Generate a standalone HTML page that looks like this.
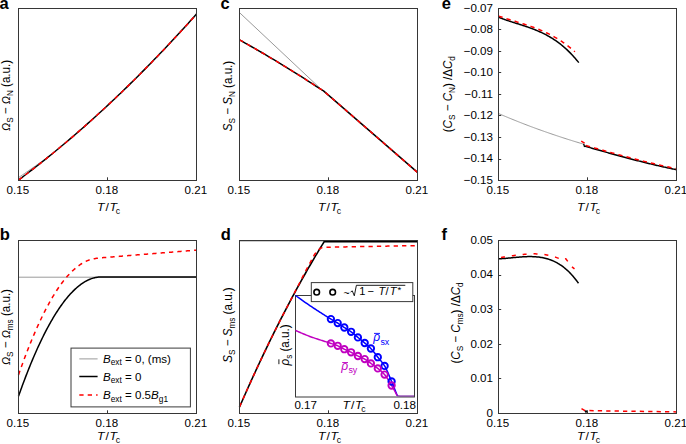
<!DOCTYPE html>
<html><head><meta charset="utf-8"><style>
html,body{margin:0;padding:0;background:#fff;}
svg{display:block;font-family:"Liberation Sans",sans-serif;}
</style></head><body>
<svg width="686" height="444" viewBox="0 0 686 444">
<rect width="686" height="444" fill="#fff"/>
<text x="-0.6" y="8.8" font-size="16.5" font-weight="bold">a</text>
<text x="220.6" y="8.8" font-size="16.5" font-weight="bold">c</text>
<text x="441.8" y="8.8" font-size="16.5" font-weight="bold">e</text>
<text x="-0.3" y="239.8" font-size="16.5" font-weight="bold">b</text>
<text x="220.8" y="239.8" font-size="16.5" font-weight="bold">d</text>
<text x="441.6" y="239.8" font-size="16.5" font-weight="bold">f</text>
<path d="M18.50,177.63 L20.60,176.20 L22.70,174.77 L24.80,173.33 L26.90,171.88 L29.00,170.42 L31.10,168.96 L33.20,167.49 L35.30,166.02 L37.40,164.54 L39.50,163.06 L41.60,161.58 L43.70,160.10 L45.80,158.63 L47.90,157.19 L50.00,155.60" fill="none" stroke="#9a9a9a" stroke-width="1" stroke-linejoin="round" />
<path d="M18.50,180.03 L21.52,177.78 L24.53,175.52 L27.55,173.23 L30.57,170.92 L33.58,168.60 L36.60,166.25 L39.62,163.88 L42.64,161.50 L45.65,159.10 L48.67,156.67 L51.69,154.23 L54.70,151.77 L57.72,149.29 L60.74,146.78 L63.75,144.26 L66.77,141.72 L69.79,139.16 L72.81,136.58 L75.82,133.99 L78.84,131.37 L81.86,128.73 L84.87,126.07 L87.89,123.40 L90.91,120.70 L93.92,117.99 L96.94,115.25 L99.96,112.50 L102.97,109.72 L105.99,106.93 L109.01,104.12 L112.03,101.29 L115.04,98.44 L118.06,95.57 L121.08,92.68 L124.09,89.77 L127.11,86.84 L130.13,83.89 L133.14,80.92 L136.16,77.93 L139.18,74.93 L142.19,71.90 L145.21,68.85 L148.23,65.79 L151.25,62.70 L154.26,59.60 L157.28,56.48 L160.30,53.33 L163.31,50.17 L166.33,46.99 L169.35,43.79 L172.36,40.57 L175.38,37.33 L178.40,34.07 L181.42,30.79 L184.43,27.49 L187.45,24.17 L190.47,20.83 L193.48,17.48 L196.50,14.10" fill="none" stroke="#000" stroke-width="1.5" stroke-linejoin="round" />
<path d="M18.50,180.03 L21.52,177.78 L24.53,175.52 L27.55,173.23 L30.57,170.92 L33.58,168.60 L36.60,166.25 L39.62,163.88 L42.64,161.50 L45.65,159.10 L48.67,156.67 L51.69,154.23 L54.70,151.77 L57.72,149.29 L60.74,146.78 L63.75,144.26 L66.77,141.72 L69.79,139.16 L72.81,136.58 L75.82,133.99 L78.84,131.37 L81.86,128.73 L84.87,126.07 L87.89,123.40 L90.91,120.70 L93.92,117.99 L96.94,115.25 L99.96,112.50 L102.97,109.72 L105.99,106.93 L109.01,104.12 L112.03,101.29 L115.04,98.44 L118.06,95.57 L121.08,92.68 L124.09,89.77 L127.11,86.84 L130.13,83.89 L133.14,80.92 L136.16,77.93 L139.18,74.93 L142.19,71.90 L145.21,68.85 L148.23,65.79 L151.25,62.70 L154.26,59.60 L157.28,56.48 L160.30,53.33 L163.31,50.17 L166.33,46.99 L169.35,43.79 L172.36,40.57 L175.38,37.33 L178.40,34.07 L181.42,30.79 L184.43,27.49 L187.45,24.17 L190.47,20.83 L193.48,17.48 L196.50,14.10" fill="none" stroke="#ff0000" stroke-width="1.5" stroke-dasharray="4.3 4.1" stroke-linejoin="round" />
<rect x="18.5" y="8.5" width="178.0" height="172.0" fill="none" stroke="#363636" stroke-width="1"/>
<text transform="translate(17.90,194.30) scale(1.0,1)" font-size="11.6" text-anchor="middle" >0.15</text>
<line x1="107.5" y1="180.5" x2="107.5" y2="177.3" stroke="#363636" stroke-width="1"/>
<text transform="translate(106.90,194.30) scale(1.0,1)" font-size="11.6" text-anchor="middle" >0.18</text>
<text transform="translate(195.90,194.30) scale(1.0,1)" font-size="11.6" text-anchor="middle" >0.21</text>
<text transform="translate(108.50,211.20) scale(1.06,1)" font-size="11.6" text-anchor="middle"><tspan font-style="italic">T</tspan><tspan dx="0.9">/</tspan><tspan dx="0.6" font-style="italic">T</tspan><tspan font-size="8.2" dx="-1.2" dy="3.1">c</tspan></text>
<text transform="translate(10.3,95.4) rotate(-90) scale(1,1.06)" font-size="11.6" text-anchor="middle"><tspan font-style="italic" font-size="10.6">Ω</tspan><tspan font-size="8.2" dy="2.6">S</tspan><tspan dy="-2.6"> − </tspan><tspan font-style="italic" font-size="10.6">Ω</tspan><tspan font-size="8.2" dy="2.6">N</tspan><tspan dy="-2.6"> (a.u.)</tspan></text>
<path d="M239.50,12.60 L320.00,88.20" fill="none" stroke="#9a9a9a" stroke-width="1" stroke-linejoin="round" />
<path d="M239.50,39.86 L242.33,41.44 L245.16,43.03 L247.98,44.62 L250.81,46.23 L253.64,47.85 L256.47,49.48 L259.29,51.12 L262.12,52.77 L264.95,54.43 L267.78,56.10 L270.60,57.78 L273.43,59.47 L276.26,61.17 L279.09,62.88 L281.91,64.60 L284.74,66.33 L287.57,68.06 L290.40,69.81 L293.22,71.57 L296.05,73.34 L298.88,75.12 L301.71,76.91 L304.53,78.71 L307.36,80.52 L310.19,82.34 L313.02,84.17 L315.84,86.01 L318.67,87.86 L321.50,89.72 L323.50,90.90 L417.50,172.40" fill="none" stroke="#000" stroke-width="1.5" stroke-linejoin="round" />
<path d="M239.50,39.86 L242.33,41.44 L245.16,43.03 L247.98,44.62 L250.81,46.23 L253.64,47.85 L256.47,49.48 L259.29,51.12 L262.12,52.77 L264.95,54.43 L267.78,56.10 L270.60,57.78 L273.43,59.47 L276.26,61.17 L279.09,62.88 L281.91,64.60 L284.74,66.33 L287.57,68.06 L290.40,69.81 L293.22,71.57 L296.05,73.34 L298.88,75.12 L301.71,76.91 L304.53,78.71 L307.36,80.52 L310.19,82.34 L313.02,84.17 L315.84,86.01 L318.67,87.86 L321.50,89.72 L323.50,90.90 L417.50,172.40" fill="none" stroke="#ff0000" stroke-width="1.5" stroke-dasharray="4.3 4.1" stroke-linejoin="round" />
<rect x="239.5" y="8.5" width="178.0" height="172.0" fill="none" stroke="#363636" stroke-width="1"/>
<text transform="translate(238.90,194.30) scale(1.0,1)" font-size="11.6" text-anchor="middle" >0.15</text>
<line x1="328.5" y1="180.5" x2="328.5" y2="177.3" stroke="#363636" stroke-width="1"/>
<text transform="translate(327.90,194.30) scale(1.0,1)" font-size="11.6" text-anchor="middle" >0.18</text>
<text transform="translate(416.90,194.30) scale(1.0,1)" font-size="11.6" text-anchor="middle" >0.21</text>
<text transform="translate(329.50,211.20) scale(1.06,1)" font-size="11.6" text-anchor="middle"><tspan font-style="italic">T</tspan><tspan dx="0.9">/</tspan><tspan dx="0.6" font-style="italic">T</tspan><tspan font-size="8.2" dx="-1.2" dy="3.1">c</tspan></text>
<text transform="translate(232.2,96.0) rotate(-90) scale(1,1.06)" font-size="11.6" text-anchor="middle"><tspan font-style="italic">S</tspan><tspan font-size="8.2" dy="2.6">S</tspan><tspan dy="-2.6"> − </tspan><tspan font-style="italic">S</tspan><tspan font-size="8.2" dy="2.6">N</tspan><tspan dy="-2.6"> (a.u.)</tspan></text>
<path d="M498.90,113.70 L499.98,114.16 L501.07,114.62 L502.15,115.08 L503.23,115.54 L504.32,115.99 L505.40,116.45 L506.48,116.90 L507.57,117.35 L508.65,117.80 L509.74,118.25 L510.82,118.69 L511.90,119.13 L512.99,119.57 L514.07,120.01 L515.15,120.45 L516.24,120.89 L517.32,121.32 L518.40,121.75 L519.49,122.18 L520.57,122.61 L521.65,123.03 L522.74,123.46 L523.82,123.88 L524.91,124.30 L525.99,124.71 L527.07,125.13 L528.16,125.54 L529.24,125.95 L530.32,126.36 L531.41,126.77 L532.49,127.17 L533.57,127.57 L534.66,127.97 L535.74,128.37 L536.82,128.76 L537.91,129.16 L538.99,129.55 L540.07,129.93 L541.16,130.32 L542.24,130.70 L543.33,131.09 L544.41,131.47 L545.49,131.85 L546.58,132.23 L547.66,132.61 L548.74,132.98 L549.83,133.36 L550.91,133.73 L551.99,134.10 L553.08,134.47 L554.16,134.84 L555.24,135.20 L556.33,135.57 L557.41,135.93 L558.49,136.29 L559.58,136.65 L560.66,137.01 L561.75,137.36 L562.83,137.72 L563.91,138.07 L565.00,138.42 L566.08,138.77 L567.16,139.11 L568.25,139.46 L569.33,139.80 L570.41,140.14 L571.50,140.48 L572.58,140.82 L573.66,141.16 L574.75,141.49 L575.83,141.82 L576.92,142.15 L578.00,142.48 L579.08,142.80 L580.17,143.13 L581.25,143.45 L582.33,143.77 L583.42,144.08 L584.50,144.40" fill="none" stroke="#9a9a9a" stroke-width="1" stroke-linejoin="round" />
<path d="M498.50,17.22 L499.52,17.62 L500.53,18.01 L501.55,18.39 L502.57,18.76 L503.58,19.13 L504.60,19.49 L505.62,19.85 L506.63,20.20 L507.65,20.54 L508.66,20.88 L509.68,21.22 L510.70,21.55 L511.71,21.88 L512.73,22.21 L513.75,22.53 L514.76,22.85 L515.78,23.18 L516.80,23.50 L517.81,23.82 L518.83,24.14 L519.85,24.47 L520.86,24.79 L521.88,25.12 L522.89,25.45 L523.91,25.78 L524.93,26.12 L525.94,26.46 L526.96,26.81 L527.98,27.16 L528.99,27.52 L530.01,27.88 L531.03,28.25 L532.04,28.63 L533.06,29.01 L534.08,29.40 L535.09,29.81 L536.11,30.22 L537.13,30.64 L538.14,31.07 L539.16,31.51 L540.17,31.97 L541.19,32.43 L542.21,32.91 L543.22,33.40 L544.24,33.90 L545.26,34.42 L546.27,34.95 L547.29,35.50 L548.31,36.06 L549.32,36.64 L550.34,37.24 L551.36,37.85 L552.37,38.48 L553.39,39.13 L554.41,39.79 L555.42,40.48 L556.44,41.18 L557.45,41.90 L558.47,42.65 L559.49,43.42 L560.50,44.20 L561.52,45.01 L562.54,45.85 L563.55,46.70 L564.57,47.58 L565.59,48.48 L566.60,49.41 L567.62,50.36 L568.64,51.34 L569.65,52.35 L570.67,53.38 L571.68,54.44 L572.70,55.52 L573.72,56.64 L574.73,57.78 L575.75,58.95 L576.77,60.15 L577.78,61.39 L578.80,62.65" fill="none" stroke="#000" stroke-width="1.5" stroke-linejoin="round" />
<path d="M498.50,16.02 L499.47,16.35 L500.43,16.68 L501.40,17.00 L502.37,17.32 L503.34,17.64 L504.30,17.95 L505.27,18.26 L506.24,18.57 L507.20,18.87 L508.17,19.18 L509.14,19.48 L510.11,19.78 L511.07,20.08 L512.04,20.38 L513.01,20.67 L513.97,20.97 L514.94,21.27 L515.91,21.57 L516.87,21.86 L517.84,22.16 L518.81,22.46 L519.78,22.76 L520.74,23.07 L521.71,23.37 L522.68,23.68 L523.64,23.99 L524.61,24.30 L525.58,24.62 L526.55,24.94 L527.51,25.26 L528.48,25.59 L529.45,25.92 L530.41,26.26 L531.38,26.60 L532.35,26.95 L533.32,27.30 L534.28,27.66 L535.25,28.02 L536.22,28.40 L537.18,28.77 L538.15,29.16 L539.12,29.55 L540.08,29.95 L541.05,30.35 L542.02,30.77 L542.99,31.19 L543.95,31.63 L544.92,32.07 L545.89,32.52 L546.85,32.98 L547.82,33.45 L548.79,33.93 L549.76,34.42 L550.72,34.92 L551.69,35.43 L552.66,35.96 L553.62,36.49 L554.59,37.04 L555.56,37.60 L556.53,38.17 L557.49,38.75 L558.46,39.35 L559.43,39.96 L560.39,40.59 L561.36,41.22 L562.33,41.88 L563.29,42.54 L564.26,43.23 L565.23,43.92 L566.20,44.64 L567.16,45.36 L568.13,46.11 L569.10,46.87 L570.06,47.64 L571.03,48.44 L572.00,49.25 L572.97,50.08 L573.93,50.92 L574.90,51.79" fill="none" stroke="#ff0000" stroke-width="1.5" stroke-dasharray="4.3 4.1" stroke-linejoin="round" />
<path d="M584.40,146.00 L585.33,146.27 L586.26,146.54 L587.19,146.81 L588.12,147.08 L589.05,147.35 L589.98,147.62 L590.91,147.89 L591.84,148.16 L592.77,148.43 L593.70,148.69 L594.63,148.96 L595.56,149.23 L596.49,149.49 L597.42,149.76 L598.35,150.02 L599.28,150.29 L600.22,150.55 L601.15,150.82 L602.08,151.08 L603.01,151.34 L603.94,151.61 L604.87,151.87 L605.80,152.13 L606.73,152.39 L607.66,152.65 L608.59,152.91 L609.52,153.17 L610.45,153.43 L611.38,153.69 L612.31,153.95 L613.24,154.20 L614.17,154.46 L615.10,154.72 L616.03,154.97 L616.96,155.23 L617.89,155.48 L618.82,155.73 L619.75,155.99 L620.68,156.24 L621.61,156.49 L622.54,156.74 L623.47,156.99 L624.40,157.24 L625.33,157.49 L626.26,157.74 L627.19,157.98 L628.12,158.23 L629.05,158.47 L629.98,158.72 L630.92,158.96 L631.85,159.21 L632.78,159.45 L633.71,159.69 L634.64,159.93 L635.57,160.17 L636.50,160.41 L637.43,160.65 L638.36,160.88 L639.29,161.12 L640.22,161.35 L641.15,161.59 L642.08,161.82 L643.01,162.05 L643.94,162.28 L644.87,162.52 L645.80,162.74 L646.73,162.97 L647.66,163.20 L648.59,163.43 L649.52,163.65 L650.45,163.88 L651.38,164.10 L652.31,164.32 L653.24,164.54 L654.17,164.76 L655.10,164.98 L656.03,165.20 L656.96,165.42 L657.89,165.63 L658.82,165.85 L659.75,166.06 L660.68,166.27 L661.62,166.49 L662.55,166.70 L663.48,166.90 L664.41,167.11 L665.34,167.32 L666.27,167.52 L667.20,167.73 L668.13,167.93 L669.06,168.13 L669.99,168.33 L670.92,168.53 L671.85,168.73 L672.78,168.93 L673.71,169.12 L674.64,169.32 L675.57,169.51 L676.50,169.70" fill="none" stroke="#000" stroke-width="1.5" stroke-linejoin="round" />
<path d="M583.6,143.9 L584.6,147" stroke="#000" stroke-width="1.3"/>
<path d="M581.20,141.20 L584.60,143.20" fill="none" stroke="#ff0000" stroke-width="1.5" stroke-linejoin="round" />
<path d="M586.00,145.47 L587.53,145.91 L589.07,146.36 L590.60,146.80 L592.14,147.24 L593.67,147.68 L595.20,148.12 L596.74,148.56 L598.27,149.00 L599.81,149.44 L601.34,149.87 L602.87,150.31 L604.41,150.74 L605.94,151.17 L607.47,151.60 L609.01,152.03 L610.54,152.46 L612.08,152.88 L613.61,153.31 L615.14,153.73 L616.68,154.15 L618.21,154.57 L619.75,154.99 L621.28,155.40 L622.81,155.81 L624.35,156.23 L625.88,156.63 L627.42,157.04 L628.95,157.45 L630.48,157.85 L632.02,158.25 L633.55,158.65 L635.08,159.05 L636.62,159.44 L638.15,159.83 L639.69,160.22 L641.22,160.61 L642.75,160.99 L644.29,161.37 L645.82,161.75 L647.36,162.13 L648.89,162.50 L650.42,162.87 L651.96,163.24 L653.49,163.60 L655.03,163.96 L656.56,164.32 L658.09,164.68 L659.63,165.03 L661.16,165.38 L662.69,165.73 L664.23,166.07 L665.76,166.41 L667.30,166.75 L668.83,167.08 L670.36,167.41 L671.90,167.74 L673.43,168.06 L674.97,168.38 L676.50,168.70" fill="none" stroke="#ff0000" stroke-width="1.5" stroke-dasharray="4.3 4.1" stroke-linejoin="round" />
<rect x="498.5" y="8.5" width="178.0" height="172.0" fill="none" stroke="#363636" stroke-width="1"/>
<text transform="translate(493.00,11.80) scale(1.0,1)" font-size="11.6" text-anchor="end" >−0.07</text>
<line x1="498.5" y1="29.5" x2="501.2" y2="29.5" stroke="#363636" stroke-width="1"/>
<text transform="translate(493.00,33.30) scale(1.0,1)" font-size="11.6" text-anchor="end" >−0.08</text>
<line x1="498.5" y1="51.5" x2="501.2" y2="51.5" stroke="#363636" stroke-width="1"/>
<text transform="translate(493.00,54.80) scale(1.0,1)" font-size="11.6" text-anchor="end" >−0.09</text>
<line x1="498.5" y1="72.5" x2="501.2" y2="72.5" stroke="#363636" stroke-width="1"/>
<text transform="translate(493.00,76.30) scale(1.0,1)" font-size="11.6" text-anchor="end" >−0.10</text>
<line x1="498.5" y1="94.5" x2="501.2" y2="94.5" stroke="#363636" stroke-width="1"/>
<text transform="translate(493.00,97.80) scale(1.0,1)" font-size="11.6" text-anchor="end" >−0.11</text>
<line x1="498.5" y1="115.5" x2="501.2" y2="115.5" stroke="#363636" stroke-width="1"/>
<text transform="translate(493.00,119.30) scale(1.0,1)" font-size="11.6" text-anchor="end" >−0.12</text>
<line x1="498.5" y1="137.5" x2="501.2" y2="137.5" stroke="#363636" stroke-width="1"/>
<text transform="translate(493.00,140.80) scale(1.0,1)" font-size="11.6" text-anchor="end" >−0.13</text>
<line x1="498.5" y1="159.5" x2="501.2" y2="159.5" stroke="#363636" stroke-width="1"/>
<text transform="translate(493.00,162.30) scale(1.0,1)" font-size="11.6" text-anchor="end" >−0.14</text>
<text transform="translate(493.00,183.80) scale(1.0,1)" font-size="11.6" text-anchor="end" >−0.15</text>
<text transform="translate(497.90,194.30) scale(1.0,1)" font-size="11.6" text-anchor="middle" >0.15</text>
<line x1="587.5" y1="180.5" x2="587.5" y2="177.3" stroke="#363636" stroke-width="1"/>
<text transform="translate(586.90,194.30) scale(1.0,1)" font-size="11.6" text-anchor="middle" >0.18</text>
<text transform="translate(675.90,194.30) scale(1.0,1)" font-size="11.6" text-anchor="middle" >0.21</text>
<text transform="translate(588.50,211.20) scale(1.06,1)" font-size="11.6" text-anchor="middle"><tspan font-style="italic">T</tspan><tspan dx="0.9">/</tspan><tspan dx="0.6" font-style="italic">T</tspan><tspan font-size="8.2" dx="-1.2" dy="3.1">c</tspan></text>
<text transform="translate(451.8,94.2) rotate(-90) scale(1,1.06)" font-size="11.6" text-anchor="middle">(<tspan font-style="italic">C</tspan><tspan font-size="8.2" dy="2.6">S</tspan><tspan dy="-2.6"> − </tspan><tspan font-style="italic">C</tspan><tspan font-size="8.2" dy="2.6">N</tspan><tspan dy="-2.6">) /Δ</tspan><tspan font-style="italic">C</tspan><tspan font-size="8.2" dy="2.6">d</tspan></text>
<path d="M18.50,277.20 L196.50,277.20" fill="none" stroke="#9a9a9a" stroke-width="1" stroke-linejoin="round" />
<path d="M18.50,396.23 L19.27,394.06 L20.04,391.90 L20.81,389.77 L21.58,387.66 L22.34,385.56 L23.11,383.49 L23.88,381.43 L24.65,379.40 L25.42,377.38 L26.19,375.39 L26.96,373.41 L27.73,371.45 L28.50,369.52 L29.26,367.60 L30.03,365.70 L30.80,363.82 L31.57,361.97 L32.34,360.13 L33.11,358.31 L33.88,356.51 L34.65,354.73 L35.42,352.97 L36.18,351.23 L36.95,349.51 L37.72,347.81 L38.49,346.13 L39.26,344.47 L40.03,342.82 L40.80,341.20 L41.57,339.60 L42.34,338.02 L43.11,336.46 L43.87,334.91 L44.64,333.39 L45.41,331.89 L46.18,330.41 L46.95,328.94 L47.72,327.50 L48.49,326.08 L49.26,324.67 L50.03,323.29 L50.79,321.93 L51.56,320.58 L52.33,319.26 L53.10,317.96 L53.87,316.67 L54.64,315.41 L55.41,314.17 L56.18,312.94 L56.95,311.74 L57.71,310.56 L58.48,309.39 L59.25,308.25 L60.02,307.13 L60.79,306.02 L61.56,304.94 L62.33,303.88 L63.10,302.84 L63.87,301.81 L64.63,300.81 L65.40,299.83 L66.17,298.87 L66.94,297.93 L67.71,297.00 L68.48,296.10 L69.25,295.22 L70.02,294.36 L70.79,293.52 L71.55,292.70 L72.32,291.90 L73.09,291.13 L73.86,290.37 L74.63,289.63 L75.40,288.91 L76.17,288.22 L76.94,287.54 L77.71,286.88 L78.47,286.25 L79.24,285.64 L80.01,285.04 L80.78,284.47 L81.55,283.92 L82.32,283.39 L83.09,282.87 L83.86,282.38 L84.63,281.92 L85.39,281.47 L86.16,281.04 L86.93,280.64 L87.70,280.25 L88.47,279.89 L89.24,279.54 L90.01,279.22 L90.78,278.92 L91.55,278.64 L92.32,278.39 L93.08,278.15 L93.85,277.94 L94.62,277.74 L95.39,277.57 L96.16,277.42 L96.93,277.30 L97.70,277.19 L98.47,277.11 L99.24,277.05 L100.00,277.01 L100.77,277.00 L101.54,277.00 L102.31,277.00 L103.08,277.00 L103.85,277.00 L104.62,277.00 L105.39,277.00 L106.16,277.00 L106.92,277.00 L107.69,277.00 L108.46,277.00 L109.23,277.00 L110.00,277.00 L196.50,277.00" fill="none" stroke="#000" stroke-width="1.5" stroke-linejoin="round" />
<path d="M18.50,374.89 L19.50,372.04 L20.50,369.22 L21.50,366.43 L22.50,363.68 L23.50,360.96 L24.50,358.27 L25.50,355.62 L26.50,353.01 L27.50,350.43 L28.50,347.88 L29.50,345.37 L30.50,342.90 L31.50,340.45 L32.50,338.05 L33.50,335.68 L34.50,333.34 L35.50,331.03 L36.50,328.77 L37.50,326.53 L38.50,324.33 L39.50,322.17 L40.50,320.04 L41.50,317.95 L42.50,315.89 L43.50,313.87 L44.50,311.88 L45.50,309.92 L46.50,308.01 L47.50,306.12 L48.50,304.27 L49.50,302.46 L50.50,300.68 L51.50,298.94 L52.50,297.24 L53.50,295.56 L54.50,293.93 L55.50,292.33 L56.50,290.76 L57.50,289.23 L58.50,287.74 L59.50,286.28 L60.50,284.87 L61.50,283.51 L62.50,282.18 L63.50,280.89 L64.50,279.64 L65.50,278.42 L66.50,277.24 L67.50,276.09 L68.50,274.99 L69.50,273.91 L70.50,272.88 L71.50,271.88 L72.50,270.91 L73.50,269.99 L74.50,269.10 L75.50,268.23 L76.50,267.40 L77.50,266.59 L78.50,265.83 L79.50,265.10 L80.50,264.41 L81.50,263.75 L82.50,263.14 L83.50,262.56 L84.50,262.02 L85.50,261.52 L86.50,261.06 L87.50,260.63 L88.50,260.24 L89.50,259.89 L90.50,259.58 L91.50,259.30 L92.50,259.05 L93.50,258.83 L94.50,258.64 L95.50,258.48 L96.50,258.33 L97.50,258.20 L98.50,258.09 L99.50,257.98 L100.50,257.89 L101.50,257.80 L102.50,257.71 L103.50,257.62 L104.50,257.54 L105.50,257.46 L106.50,257.38 L107.50,257.30 L108.50,257.22 L109.50,257.14 L110.50,257.05 L111.50,256.97 L112.50,256.89 L113.50,256.81 L114.50,256.73 L115.50,256.65 L116.50,256.57 L117.50,256.49 L118.50,256.41 L119.50,256.33 L120.50,256.25 L121.50,256.17 L122.50,256.09 L123.50,256.00 L124.50,255.92 L125.50,255.84 L126.50,255.76 L127.50,255.68 L128.50,255.60 L129.50,255.52 L130.50,255.44 L131.50,255.36 L132.50,255.28 L133.50,255.20 L134.50,255.12 L135.50,255.04 L136.50,254.95 L137.50,254.87 L138.50,254.79 L139.50,254.71 L140.50,254.63 L141.50,254.55 L142.50,254.47 L143.50,254.39 L144.50,254.31 L145.50,254.23 L146.50,254.15 L147.50,254.07 L148.50,253.99 L149.50,253.90 L150.50,253.82 L151.50,253.74 L152.50,253.66 L153.50,253.58 L154.50,253.50 L155.50,253.42 L156.50,253.34 L157.50,253.26 L158.50,253.18 L159.50,253.10 L160.50,253.02 L161.50,252.94 L162.50,252.85 L163.50,252.77 L164.50,252.69 L165.50,252.61 L166.50,252.53 L167.50,252.45 L168.50,252.37 L169.50,252.29 L170.50,252.21 L171.50,252.13 L172.50,252.05 L173.50,251.97 L174.50,251.89 L175.50,251.80 L176.50,251.72 L177.50,251.64 L178.50,251.56 L179.50,251.48 L180.50,251.40 L181.50,251.32 L182.50,251.24 L183.50,251.16 L184.50,251.08 L185.50,251.00 L186.50,250.92 L187.50,250.84 L188.50,250.75 L189.50,250.67 L190.50,250.59 L191.50,250.51 L192.50,250.43 L193.50,250.35 L194.50,250.27 L195.50,250.19 L196.50,250.11" fill="none" stroke="#ff0000" stroke-width="1.5" stroke-dasharray="4.3 4.1" stroke-linejoin="round" />
<rect x="18.5" y="240.5" width="178.0" height="173.0" fill="none" stroke="#363636" stroke-width="1"/>
<text transform="translate(17.90,426.70) scale(1.0,1)" font-size="11.6" text-anchor="middle" >0.15</text>
<line x1="107.5" y1="413.5" x2="107.5" y2="410.3" stroke="#363636" stroke-width="1"/>
<text transform="translate(106.90,426.70) scale(1.0,1)" font-size="11.6" text-anchor="middle" >0.18</text>
<text transform="translate(195.90,426.70) scale(1.0,1)" font-size="11.6" text-anchor="middle" >0.21</text>
<text transform="translate(108.50,440.30) scale(1.06,1)" font-size="11.6" text-anchor="middle"><tspan font-style="italic">T</tspan><tspan dx="0.9">/</tspan><tspan dx="0.6" font-style="italic">T</tspan><tspan font-size="8.2" dx="-1.2" dy="3.1">c</tspan></text>
<text transform="translate(10.3,327) rotate(-90) scale(1,1.06)" font-size="11.6" text-anchor="middle"><tspan font-style="italic" font-size="10.6">Ω</tspan><tspan font-size="8.2" dy="2.6">S</tspan><tspan dy="-2.6"> − </tspan><tspan font-style="italic" font-size="10.6">Ω</tspan><tspan font-size="8.2" dy="2.6">ms</tspan><tspan dy="-2.6"> (a.u.)</tspan></text>
<rect x="71.0" y="348.1" width="119.4" height="58.8" fill="#fff" stroke="#3a3a3a" stroke-width="1"/>
<path d="M79.30,358.90 L97.60,358.90" fill="none" stroke="#9a9a9a" stroke-width="1" stroke-linejoin="round" />
<path d="M79.30,376.50 L97.60,376.50" fill="none" stroke="#000" stroke-width="1.5" stroke-linejoin="round" />
<path d="M79.30,395.00 L97.60,395.00" fill="none" stroke="#ff0000" stroke-width="1.5" stroke-dasharray="4.3 4.1" stroke-linejoin="round" />
<text transform="translate(103,362.6) scale(1.015,1)" font-size="11.4"><tspan font-style="italic">B</tspan><tspan font-size="8.2" dy="2.6">ext</tspan><tspan dy="-2.6"> = 0, (ms)</tspan></text>
<text transform="translate(103,380.6) scale(1.015,1)" font-size="11.4"><tspan font-style="italic">B</tspan><tspan font-size="8.2" dy="2.6">ext</tspan><tspan dy="-2.6"> = 0</tspan></text>
<text transform="translate(103,399.2) scale(1.015,1)" font-size="11.4"><tspan font-style="italic">B</tspan><tspan font-size="8.2" dy="2.6">ext</tspan><tspan dy="-2.6"> = 0.5</tspan><tspan font-style="italic">B</tspan><tspan font-size="8.2" dy="2.6">g1</tspan></text>
<path d="M239.50,241.00 L324.50,241.00" fill="none" stroke="#9a9a9a" stroke-width="1" stroke-linejoin="round" />
<path d="M239.50,407.01 L240.94,403.72 L242.37,400.45 L243.81,397.20 L245.25,393.96 L246.69,390.73 L248.12,387.53 L249.56,384.34 L251.00,381.17 L252.44,378.01 L253.87,374.87 L255.31,371.75 L256.75,368.64 L258.18,365.56 L259.62,362.48 L261.06,359.43 L262.50,356.39 L263.93,353.37 L265.37,350.36 L266.81,347.37 L268.25,344.40 L269.68,341.45 L271.12,338.51 L272.56,335.59 L273.99,332.68 L275.43,329.79 L276.87,326.92 L278.31,324.06 L279.74,321.23 L281.18,318.40 L282.62,315.60 L284.06,312.81 L285.49,310.04 L286.93,307.28 L288.37,304.55 L289.81,301.83 L291.24,299.12 L292.68,296.43 L294.12,293.76 L295.55,291.11 L296.99,288.47 L298.43,285.85 L299.87,283.24 L301.30,280.65 L302.74,278.08 L304.18,275.53 L305.62,272.99 L307.05,270.47 L308.49,267.96 L309.93,265.48 L311.36,263.01 L312.80,260.55 L314.24,258.11 L315.68,255.69 L317.11,253.29 L318.55,250.90 L319.99,248.53 L321.43,246.18 L322.86,243.84 L324.30,241.52 L325.20,241.60 L417.50,241.60" fill="none" stroke="#000" stroke-width="1.6" stroke-linejoin="round" />
<path d="M239.50,407.01 L241.31,402.87 L243.12,398.76 L244.93,394.67 L246.74,390.61 L248.55,386.58 L250.36,382.57 L252.17,378.59 L253.98,374.63 L255.79,370.71 L257.60,366.80 L259.41,362.93 L261.22,359.08 L263.03,355.26 L264.84,351.46 L266.66,347.69 L268.47,343.95 L270.28,340.23 L272.09,336.54 L273.90,332.88 L275.71,329.24 L277.52,325.63 L279.33,322.05 L281.14,318.49 L282.95,314.96 L284.76,311.45 L286.57,307.98 L288.38,304.52 L290.19,301.10 L292.00,297.70 L293.41,294.96 L294.82,292.21 L296.23,289.47 L297.64,286.72 L299.05,283.97 L300.46,281.23 L301.87,278.46 L303.28,275.69 L304.69,272.93 L306.10,270.20 L307.51,267.52 L308.92,264.89 L310.33,262.29 L311.74,259.65 L313.15,256.91 L314.56,254.46 L315.97,252.57 L317.38,250.95 L318.79,249.61 L320.20,248.52 L321.61,247.80 L323.02,247.51 L324.43,247.33 L325.84,247.27 L327.25,247.22 L328.66,247.18 L330.07,247.15 L331.48,247.12 L332.89,247.10 L334.30,247.08 L335.71,247.06 L337.12,247.05 L338.53,247.03 L339.94,247.00 L341.35,246.97 L342.76,246.95 L344.17,246.92 L345.58,246.89 L346.99,246.87 L348.40,246.84 L349.81,246.81 L351.22,246.79 L352.63,246.76 L354.04,246.73 L355.46,246.71 L356.87,246.68 L358.28,246.65 L359.69,246.63 L361.10,246.60 L362.51,246.57 L363.92,246.55 L365.33,246.52 L366.74,246.49 L368.15,246.47 L369.56,246.44 L370.97,246.42 L372.38,246.39 L373.79,246.36 L375.20,246.34 L376.61,246.31 L378.02,246.29 L379.43,246.26 L380.84,246.24 L382.25,246.21 L383.66,246.18 L385.07,246.16 L386.48,246.13 L387.89,246.11 L389.30,246.08 L390.71,246.06 L392.12,246.03 L393.53,246.01 L394.94,245.98 L396.35,245.96 L397.76,245.93 L399.17,245.91 L400.58,245.89 L401.99,245.86 L403.40,245.84 L404.81,245.81 L406.22,245.79 L407.63,245.76 L409.04,245.74 L410.45,245.72 L411.86,245.69 L413.27,245.67 L414.68,245.65 L416.09,245.62 L417.50,245.60" fill="none" stroke="#ff0000" stroke-width="1.5" stroke-dasharray="4.3 4.1" stroke-linejoin="round" />
<rect x="239.5" y="240.5" width="178.0" height="173.0" fill="none" stroke="#363636" stroke-width="1"/>
<text transform="translate(238.90,426.70) scale(1.0,1)" font-size="11.6" text-anchor="middle" >0.15</text>
<line x1="328.5" y1="413.5" x2="328.5" y2="410.3" stroke="#363636" stroke-width="1"/>
<text transform="translate(327.90,426.70) scale(1.0,1)" font-size="11.6" text-anchor="middle" >0.18</text>
<text transform="translate(416.90,426.70) scale(1.0,1)" font-size="11.6" text-anchor="middle" >0.21</text>
<text transform="translate(329.50,440.30) scale(1.06,1)" font-size="11.6" text-anchor="middle"><tspan font-style="italic">T</tspan><tspan dx="0.9">/</tspan><tspan dx="0.6" font-style="italic">T</tspan><tspan font-size="8.2" dx="-1.2" dy="3.1">c</tspan></text>
<text transform="translate(232.2,325) rotate(-90) scale(1,1.06)" font-size="11.6" text-anchor="middle"><tspan font-style="italic">S</tspan><tspan font-size="8.2" dy="2.6">S</tspan><tspan dy="-2.6"> − </tspan><tspan font-style="italic">S</tspan><tspan font-size="8.2" dy="2.6">ms</tspan><tspan dy="-2.6"> (a.u.)</tspan></text>
<rect x="295.5" y="295.5" width="119.0" height="101.5" fill="#fff" stroke="#3a3a3a" stroke-width="1"/>
<path d="M295.50,295.50 L296.18,296.00 L296.87,296.50 L297.55,296.99 L298.23,297.48 L298.91,297.97 L299.60,298.46 L300.28,298.95 L300.96,299.43 L301.64,299.92 L302.33,300.40 L303.01,300.88 L303.69,301.35 L304.37,301.83 L305.06,302.30 L305.74,302.77 L306.42,303.24 L307.10,303.71 L307.79,304.18 L308.47,304.64 L309.15,305.10 L309.83,305.56 L310.52,306.02 L311.20,306.48 L311.88,306.94 L312.56,307.39 L313.25,307.84 L313.93,308.30 L314.61,308.75 L315.29,309.19 L315.98,309.64 L316.66,310.09 L317.34,310.53 L318.02,310.97 L318.71,311.42 L319.39,311.86 L320.07,312.30 L320.75,312.73 L321.44,313.17 L322.12,313.60 L322.80,314.04 L323.48,314.47 L324.17,314.90 L324.85,315.33 L325.53,315.76 L326.21,316.19 L326.90,316.62 L327.58,317.04 L328.26,317.47 L328.94,317.89 L329.63,318.31 L330.31,318.74 L330.99,319.16 L331.68,319.57 L332.36,319.97 L333.04,320.37 L333.72,320.76 L334.41,321.15 L335.09,321.54 L335.77,321.94 L336.45,322.34 L337.14,322.75 L337.82,323.17 L338.50,323.61 L339.18,324.06 L339.87,324.51 L340.55,324.97 L341.23,325.44 L341.91,325.90 L342.60,326.37 L343.28,326.83 L343.96,327.28 L344.64,327.72 L345.33,328.15 L346.01,328.57 L346.69,328.98 L347.37,329.40 L348.06,329.81 L348.74,330.23 L349.42,330.66 L350.10,331.11 L350.79,331.58 L351.47,332.07 L352.15,332.58 L352.83,333.12 L353.52,333.68 L354.20,334.25 L354.88,334.83 L355.56,335.42 L356.25,336.01 L356.93,336.59 L357.61,337.16 L358.29,337.72 L358.98,338.28 L359.66,338.84 L360.34,339.39 L361.02,339.95 L361.71,340.51 L362.39,341.07 L363.07,341.63 L363.76,342.20 L364.44,342.78 L365.12,343.36 L365.80,343.93 L366.49,344.50 L367.17,345.07 L367.85,345.65 L368.53,346.25 L369.22,346.86 L369.90,347.50 L370.58,348.17 L371.26,348.89 L371.95,349.65 L372.63,350.46 L373.31,351.31 L373.99,352.18 L374.68,353.08 L375.36,353.99 L376.04,354.90 L376.72,355.80 L377.41,356.70 L378.09,357.56 L378.77,358.39 L379.45,359.20 L380.14,360.00 L380.82,360.80 L381.50,361.61 L382.18,362.46 L382.87,363.35 L383.55,364.30 L384.23,365.32 L384.91,366.42 L385.60,367.66 L386.28,369.01 L386.96,370.46 L387.64,371.99 L388.33,373.58 L389.01,375.22 L389.69,376.88 L390.37,378.54 L391.06,380.20 L391.74,381.83 L392.42,383.47 L393.10,385.13 L393.79,386.82 L394.47,388.53 L395.15,390.27 L395.83,392.03 L396.52,393.80 L397.20,395.60" fill="none" stroke="#0000ff" stroke-width="1.5" stroke-linejoin="round" />
<path d="M295.50,330.40 L296.18,330.71 L296.87,331.02 L297.55,331.33 L298.23,331.64 L298.91,331.94 L299.60,332.24 L300.28,332.54 L300.96,332.84 L301.64,333.13 L302.33,333.42 L303.01,333.71 L303.69,334.00 L304.37,334.28 L305.06,334.56 L305.74,334.84 L306.42,335.12 L307.10,335.39 L307.79,335.66 L308.47,335.92 L309.15,336.18 L309.83,336.44 L310.52,336.69 L311.20,336.94 L311.88,337.19 L312.56,337.43 L313.25,337.66 L313.93,337.90 L314.61,338.13 L315.29,338.36 L315.98,338.59 L316.66,338.81 L317.34,339.03 L318.02,339.25 L318.71,339.47 L319.39,339.69 L320.07,339.91 L320.75,340.12 L321.44,340.34 L322.12,340.55 L322.80,340.77 L323.48,340.98 L324.17,341.20 L324.85,341.42 L325.53,341.63 L326.21,341.85 L326.90,342.07 L327.58,342.29 L328.26,342.52 L328.94,342.74 L329.63,342.97 L330.31,343.20 L330.99,343.43 L331.68,343.66 L332.36,343.89 L333.04,344.11 L333.72,344.34 L334.41,344.57 L335.09,344.81 L335.77,345.05 L336.45,345.30 L337.14,345.57 L337.82,345.85 L338.50,346.16 L339.18,346.49 L339.87,346.84 L340.55,347.20 L341.23,347.57 L341.91,347.95 L342.60,348.32 L343.28,348.68 L343.96,349.03 L344.64,349.36 L345.33,349.68 L346.01,349.99 L346.69,350.30 L347.37,350.60 L348.06,350.90 L348.74,351.20 L349.42,351.51 L350.10,351.82 L350.79,352.15 L351.47,352.49 L352.15,352.84 L352.83,353.21 L353.52,353.59 L354.20,353.98 L354.88,354.37 L355.56,354.75 L356.25,355.13 L356.93,355.50 L357.61,355.86 L358.29,356.19 L358.98,356.51 L359.66,356.81 L360.34,357.10 L361.02,357.39 L361.71,357.68 L362.39,357.97 L363.07,358.28 L363.76,358.61 L364.44,358.96 L365.12,359.34 L365.80,359.76 L366.49,360.20 L367.17,360.68 L367.85,361.17 L368.53,361.67 L369.22,362.17 L369.90,362.68 L370.58,363.17 L371.26,363.66 L371.95,364.13 L372.63,364.61 L373.31,365.08 L373.99,365.56 L374.68,366.05 L375.36,366.54 L376.04,367.04 L376.72,367.55 L377.41,368.09 L378.09,368.63 L378.77,369.18 L379.45,369.74 L380.14,370.30 L380.82,370.88 L381.50,371.48 L382.18,372.10 L382.87,372.76 L383.55,373.45 L384.23,374.18 L384.91,374.97 L385.60,375.84 L386.28,376.78 L386.96,377.79 L387.64,378.85 L388.33,379.96 L389.01,381.10 L389.69,382.25 L390.37,383.42 L391.06,384.58 L391.74,385.73 L392.42,386.90 L393.10,388.08 L393.79,389.28 L394.47,390.51 L395.15,391.76 L395.83,393.02 L396.52,394.30 L397.20,395.60" fill="none" stroke="#c000c0" stroke-width="1.5" stroke-linejoin="round" />
<path d="M397.00,395.70 L400.00,396.00 L414.00,396.00" fill="none" stroke="#6a0a9a" stroke-width="1.1" stroke-linejoin="round" />
<circle cx="330.9" cy="319.1" r="3.2" fill="none" stroke="#0000ff" stroke-width="1.9"/>
<circle cx="337.7" cy="323.1" r="3.2" fill="none" stroke="#0000ff" stroke-width="1.9"/>
<circle cx="344.3" cy="327.5" r="3.2" fill="none" stroke="#0000ff" stroke-width="1.9"/>
<circle cx="351.1" cy="331.8" r="3.2" fill="none" stroke="#0000ff" stroke-width="1.9"/>
<circle cx="357.9" cy="337.4" r="3.2" fill="none" stroke="#0000ff" stroke-width="1.9"/>
<circle cx="364.7" cy="343" r="3.2" fill="none" stroke="#0000ff" stroke-width="1.9"/>
<circle cx="370.9" cy="348.5" r="3.2" fill="none" stroke="#0000ff" stroke-width="1.9"/>
<circle cx="377.8" cy="357.2" r="3.2" fill="none" stroke="#0000ff" stroke-width="1.9"/>
<circle cx="384.6" cy="365.9" r="3.2" fill="none" stroke="#0000ff" stroke-width="1.9"/>
<circle cx="391.6" cy="381.5" r="3.2" fill="none" stroke="#0000ff" stroke-width="1.9"/>
<circle cx="330.9" cy="343.4" r="3.2" fill="none" stroke="#c000c0" stroke-width="1.9"/>
<circle cx="337.7" cy="345.8" r="3.2" fill="none" stroke="#c000c0" stroke-width="1.9"/>
<circle cx="344.3" cy="349.2" r="3.2" fill="none" stroke="#c000c0" stroke-width="1.9"/>
<circle cx="351.1" cy="352.3" r="3.2" fill="none" stroke="#c000c0" stroke-width="1.9"/>
<circle cx="357.9" cy="356" r="3.2" fill="none" stroke="#c000c0" stroke-width="1.9"/>
<circle cx="364.7" cy="359.1" r="3.2" fill="none" stroke="#c000c0" stroke-width="1.9"/>
<circle cx="370.9" cy="363.4" r="3.2" fill="none" stroke="#c000c0" stroke-width="1.9"/>
<circle cx="377.8" cy="368.4" r="3.2" fill="none" stroke="#c000c0" stroke-width="1.9"/>
<circle cx="384.6" cy="374.6" r="3.2" fill="none" stroke="#c000c0" stroke-width="1.9"/>
<circle cx="391.6" cy="385.5" r="3.2" fill="none" stroke="#c000c0" stroke-width="1.9"/>
<text transform="translate(305.70,409.00) scale(1.0,1)" font-size="11.6" text-anchor="middle" >0.17</text>
<text transform="translate(404.70,409.00) scale(1.0,1)" font-size="11.6" text-anchor="middle" >0.18</text>
<text transform="translate(354.00,409.20) scale(1.06,1)" font-size="11.6" text-anchor="middle"><tspan font-style="italic">T</tspan><tspan dx="0.9">/</tspan><tspan dx="0.6" font-style="italic">T</tspan><tspan font-size="8.2" dx="-1.2" dy="3.1">c</tspan></text>
<text transform="translate(289.3,345) rotate(-90) scale(1,1.06)" font-size="11.6" text-anchor="middle"><tspan font-style="italic">ρ</tspan><tspan font-size="8.2" dy="2.6">s</tspan><tspan dy="-2.6"> (a.u.)</tspan></text>
<line x1="278.9" y1="359.3" x2="278.9" y2="364.2" stroke="#000" stroke-width="0.9"/>
<text x="373.2" y="341.4" font-size="12" fill="#0000ff"><tspan font-style="italic">ρ</tspan><tspan font-size="8.9" dx="0.3" dy="3.2">sx</tspan></text>
<line x1="374" y1="333.4" x2="380" y2="333.4" stroke="#0000ff" stroke-width="0.9"/>
<text x="341.2" y="370.1" font-size="12" fill="#c000c0"><tspan font-style="italic">ρ</tspan><tspan font-size="8.9" dx="0.3" dy="3.2">sy</tspan></text>
<line x1="342.2" y1="362.5" x2="348" y2="362.5" stroke="#c000c0" stroke-width="0.9"/>
<rect x="311.3" y="282.6" width="101.5" height="19" fill="#fff" stroke="#3a3a3a" stroke-width="1"/>
<circle cx="316.7" cy="292.2" r="2.8" fill="none" stroke="#000" stroke-width="1.6"/>
<circle cx="332.7" cy="292.2" r="2.8" fill="none" stroke="#000" stroke-width="1.6"/>
<text x="343.6" y="296.6" font-size="10.5">~</text>
<path d="M350.6,292.0 L352.3,290.9 L354.3,295.8 L356.4,285.3 L405.3,285.3" fill="none" stroke="#000" stroke-width="0.9"/>
<text x="359.3" y="295.3" font-size="11">1</text>
<text x="367.6" y="295.3" font-size="11">−</text>
<text x="378.6" y="295.3" font-size="11" font-style="italic">T</text>
<text x="385.6" y="295.3" font-size="11">/</text>
<text x="389.8" y="295.3" font-size="11" font-style="italic">T</text>
<text x="397.6" y="293.3" font-size="9.5">*</text>
<path d="M498.30,258.85 L499.32,258.80 L500.33,258.75 L501.35,258.69 L502.36,258.62 L503.38,258.54 L504.39,258.46 L505.41,258.38 L506.42,258.29 L507.44,258.20 L508.45,258.11 L509.47,258.01 L510.48,257.91 L511.50,257.81 L512.51,257.71 L513.53,257.61 L514.54,257.51 L515.56,257.41 L516.57,257.32 L517.59,257.23 L518.60,257.14 L519.62,257.05 L520.63,256.98 L521.65,256.90 L522.66,256.83 L523.68,256.77 L524.69,256.72 L525.71,256.67 L526.73,256.64 L527.74,256.61 L528.76,256.59 L529.77,256.59 L530.79,256.59 L531.80,256.61 L532.82,256.63 L533.83,256.68 L534.85,256.73 L535.86,256.80 L536.88,256.89 L537.89,256.99 L538.91,257.11 L539.92,257.24 L540.94,257.40 L541.95,257.57 L542.97,257.76 L543.98,257.97 L545.00,258.20 L546.01,258.45 L547.03,258.73 L548.04,259.03 L549.06,259.36 L550.07,259.71 L551.09,260.08 L552.11,260.49 L553.12,260.92 L554.14,261.38 L555.15,261.87 L556.17,262.39 L557.18,262.94 L558.20,263.53 L559.21,264.14 L560.23,264.79 L561.24,265.48 L562.26,266.20 L563.27,266.96 L564.29,267.75 L565.30,268.59 L566.32,269.46 L567.33,270.37 L568.35,271.32 L569.36,272.32 L570.38,273.35 L571.39,274.43 L572.41,275.56 L573.42,276.73 L574.44,277.94 L575.45,279.20 L576.47,280.51 L577.48,281.87 L578.50,283.28" fill="none" stroke="#000" stroke-width="1.5" stroke-linejoin="round" />
<path d="M498.50,257.91 L499.81,257.72 L501.12,257.52 L502.42,257.32 L503.73,257.11 L505.04,256.91 L506.35,256.70 L507.66,256.50 L508.97,256.29 L510.27,256.09 L511.58,255.89 L512.89,255.70 L514.20,255.51 L515.51,255.32 L516.81,255.15 L518.12,254.98 L519.43,254.82 L520.74,254.66 L522.05,254.52 L523.36,254.39 L524.66,254.27 L525.97,254.17 L527.28,254.08 L528.59,254.00 L529.90,253.94 L531.20,253.90 L532.51,253.87 L533.82,253.86 L535.13,253.87 L536.44,253.90 L537.74,253.95 L539.05,254.03 L540.36,254.12 L541.67,254.24 L542.98,254.39 L544.29,254.56 L545.59,254.75 L546.90,254.97 L548.21,255.23 L549.52,255.51 L550.83,255.82 L552.13,256.16 L553.44,256.53 L554.75,256.93 L556.06,257.37 L557.37,257.85 L558.68,258.35 L559.98,258.90 L561.29,259.48 L562.60,260.10 L565.80,258.80 L568.50,262.40 L571.30,266.30 L574.50,268.80" fill="none" stroke="#ff0000" stroke-width="1.5" stroke-dasharray="0 2.6 4 4.3" stroke-linejoin="round" />
<path d="M581.50,408.60 L584.50,410.40 L600.00,410.80 L676.50,411.90" fill="none" stroke="#ff0000" stroke-width="1.5" stroke-dasharray="4.3 4.1" stroke-linejoin="round" />
<circle cx="586" cy="411.5" r="1.2" fill="#000"/>
<rect x="498.5" y="240.5" width="178.0" height="173.0" fill="none" stroke="#363636" stroke-width="1"/>
<text transform="translate(493.00,243.80) scale(1.0,1)" font-size="11.6" text-anchor="end" >0.05</text>
<line x1="498.5" y1="275.5" x2="501.2" y2="275.5" stroke="#363636" stroke-width="1"/>
<text transform="translate(493.00,278.40) scale(1.0,1)" font-size="11.6" text-anchor="end" >0.04</text>
<line x1="498.5" y1="309.5" x2="501.2" y2="309.5" stroke="#363636" stroke-width="1"/>
<text transform="translate(493.00,313.00) scale(1.0,1)" font-size="11.6" text-anchor="end" >0.03</text>
<line x1="498.5" y1="344.5" x2="501.2" y2="344.5" stroke="#363636" stroke-width="1"/>
<text transform="translate(493.00,347.60) scale(1.0,1)" font-size="11.6" text-anchor="end" >0.02</text>
<line x1="498.5" y1="378.5" x2="501.2" y2="378.5" stroke="#363636" stroke-width="1"/>
<text transform="translate(493.00,382.20) scale(1.0,1)" font-size="11.6" text-anchor="end" >0.01</text>
<text transform="translate(493.00,416.80) scale(1.0,1)" font-size="11.6" text-anchor="end" >0</text>
<text transform="translate(497.90,426.70) scale(1.0,1)" font-size="11.6" text-anchor="middle" >0.15</text>
<line x1="587.5" y1="413.5" x2="587.5" y2="410.3" stroke="#363636" stroke-width="1"/>
<text transform="translate(586.90,426.70) scale(1.0,1)" font-size="11.6" text-anchor="middle" >0.18</text>
<text transform="translate(675.90,426.70) scale(1.0,1)" font-size="11.6" text-anchor="middle" >0.21</text>
<text transform="translate(588.50,440.30) scale(1.06,1)" font-size="11.6" text-anchor="middle"><tspan font-style="italic">T</tspan><tspan dx="0.9">/</tspan><tspan dx="0.6" font-style="italic">T</tspan><tspan font-size="8.2" dx="-1.2" dy="3.1">c</tspan></text>
<text transform="translate(460,323) rotate(-90) scale(1,1.06)" font-size="11.6" text-anchor="middle">(<tspan font-style="italic">C</tspan><tspan font-size="8.2" dy="2.6">S</tspan><tspan dy="-2.6"> − </tspan><tspan font-style="italic">C</tspan><tspan font-size="8.2" dy="2.6">ms</tspan><tspan dy="-2.6">) /Δ</tspan><tspan font-style="italic">C</tspan><tspan font-size="8.2" dy="2.6">d</tspan></text>
</svg></body></html>
